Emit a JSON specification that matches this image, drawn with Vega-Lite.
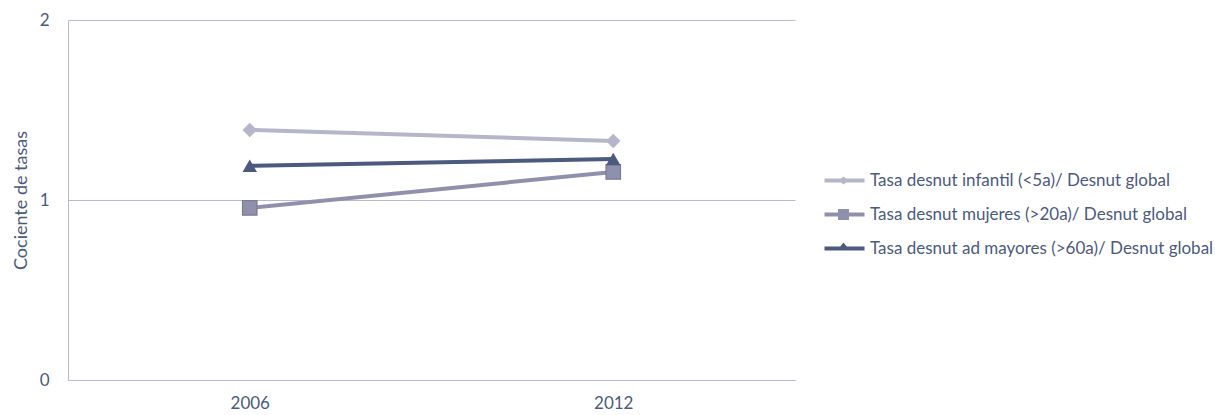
{
  "$schema": "https://vega.github.io/schema/vega-lite/v6.json",
  "width": 727,
  "height": 360,
  "autosize": "none",
  "padding": {"left": 68, "top": 20, "right": 420, "bottom": 35},
  "background": "white",
  "config": {
    "font": "Lato",
    "view": {"stroke": null},
    "axis": {"labelColor": "#4B5A80", "titleColor": "#4B5A80", "labelFont": "Lato", "titleFont": "Lato", "labelFontSize": 17, "titleFontSize": 18, "titleFontWeight": "normal", "ticks": false, "domainColor": "#B8BACD", "gridColor": "#B8BACD", "gridOpacity": 1}
  },
  "data": {
    "values": [
      {"year": "2006", "series": "Tasa desnut infantil (<5a)/ Desnut global", "value": 1.389},
      {"year": "2012", "series": "Tasa desnut infantil (<5a)/ Desnut global", "value": 1.328},
      {"year": "2006", "series": "Tasa desnut mujeres (>20a)/ Desnut global", "value": 0.956},
      {"year": "2012", "series": "Tasa desnut mujeres (>20a)/ Desnut global", "value": 1.156},
      {"year": "2006", "series": "Tasa desnut ad mayores (>60a)/ Desnut global", "value": 1.19},
      {"year": "2012", "series": "Tasa desnut ad mayores (>60a)/ Desnut global", "value": 1.228}
    ]
  },
  "encoding": {
    "x": {"field": "year", "type": "ordinal", "scale": {"type": "point", "padding": 0.5}, "axis": {"title": null, "labelAngle": 0, "labelPadding": 15, "domain": true, "grid": false}},
    "y": {"field": "value", "type": "quantitative", "scale": {"domain": [0, 2], "nice": false}, "axis": {"title": "Cociente de tasas", "values": [0, 1, 2], "labelExpr": "'' + datum.value", "labelOverlap": false, "labelPadding": 19, "titlePadding": 9, "grid": true, "domain": true}},
    "color": {
      "field": "series", "type": "nominal",
      "sort": ["Tasa desnut infantil (<5a)/ Desnut global", "Tasa desnut mujeres (>20a)/ Desnut global", "Tasa desnut ad mayores (>60a)/ Desnut global"],
      "scale": {"domain": ["Tasa desnut infantil (<5a)/ Desnut global", "Tasa desnut mujeres (>20a)/ Desnut global", "Tasa desnut ad mayores (>60a)/ Desnut global"], "range": ["#B5B6C9", "#8F90AB", "#4C5A80"]},
      "legend": {
        "title": null, "orient": "none", "legendX": 783, "legendY": 152,
        "labelColor": "#4B5A80", "labelFont": "Lato", "labelFontSize": 17, "labelOffset": 2,
        "symbolSize": 100, "rowPadding": 16, "labelLimit": 400,
        "encode": {
          "symbols": {
            "update": {
              "shape": {"signal": "indexof(datum.value, 'infantil') >= 0 ? 'M-7.0,-0.4H1V0.4H-7.0ZM-4.2,0L-3.2,-0.8L-2.2,0L-3.2,0.8Z' : indexof(datum.value, 'mujeres') >= 0 ? 'M-7.0,-0.4H1V0.4H-7.0ZM-4.3,-1.1H-2.1V1.1H-4.3Z' : 'M-7.0,-0.4H1V0.4H-7.0ZM-4.5,0.4L-3.2,-1.2L-1.9,0.4Z'"},
              "fill": {"scale": "color", "field": "value"},
              "fillOpacity": {"value": 1},
              "strokeWidth": {"value": 0}
            }
          }
        }
      }
    }
  },
  "layer": [
    {"mark": {"type": "line", "strokeWidth": 4}},
    {
      "mark": {"type": "point", "filled": true, "opacity": 1, "stroke": "#7A7B99", "strokeWidth": 0},
      "encoding": {
        "shape": {"condition": [{"test": "indexof(datum.series, 'infantil') >= 0", "value": "diamond"}, {"test": "indexof(datum.series, 'mujeres') >= 0", "value": "square"}], "value": "triangle-up"},
        "size": {"value": 210},
        "strokeWidth": {"condition": {"test": "indexof(datum.series, 'mujeres') >= 0", "value": 1.2}, "value": 0}
      }
    }
  ]
}
